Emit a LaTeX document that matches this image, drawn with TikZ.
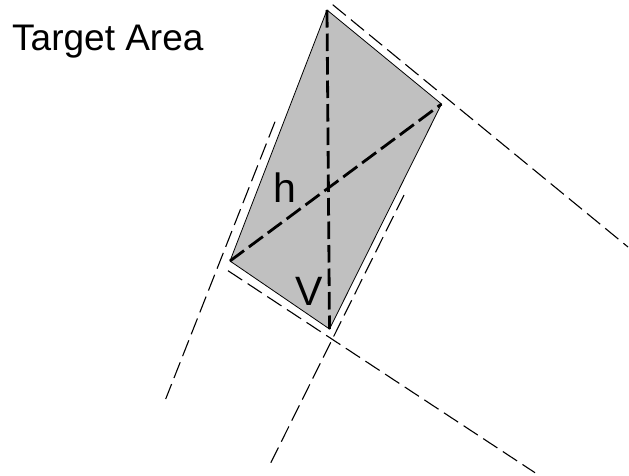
\documentclass[tikz,border=0pt]{standalone}
\usepackage{fontspec}
\setmainfont{Liberation Sans}
\begin{document}
\begin{tikzpicture}[x=1pt,y=-1pt,
  outline/.style={draw=black,line width=0.8pt,fill=areagray},
  guide/.style={draw=black,line width=1.1pt,dash pattern=on 17pt off 6.5pt},
  diag/.style={draw=black,line width=2.8pt,dash pattern=on 17.5pt off 6pt},
  lbl/.style={inner sep=0pt,anchor=base west}]
\definecolor{areagray}{RGB}{192,192,192}
\useasboundingbox (0,0) rectangle (629,475);
% vertices
\coordinate (T) at (327,10);
\coordinate (R) at (441.5,104);
\coordinate (B) at (329.5,329);
\coordinate (L) at (230,261);
% guide line ends
\coordinate (g1a) at (332.7,4.7);
\coordinate (g1b) at (628,247);
\coordinate (g2a) at (228,270.7);
\coordinate (g2b) at (535,472.7);
\coordinate (g3a) at (275,121.7);
\coordinate (g3b) at (165.7,399);
\coordinate (g4a) at (404,195);
\coordinate (g4b) at (270.7,463);
\path[outline] (T) -- (R) -- (B) -- (L) -- cycle;
\draw[diag] (T) -- (B);
\draw[diag] (L) -- (R);
\draw[guide] (g1a) -- (g1b);
\draw[guide] (g2a) -- (g2b);
\draw[guide] (g3a) -- (g3b);
\draw[guide] (g4a) -- (g4b);
\node[lbl,font=\fontsize{37}{42}\selectfont] (title) at (12,50) {Target Area};
\node[lbl,font=\fontsize{41}{46}\selectfont] (h) at (273,202) {h};
\node[lbl,font=\fontsize{41}{46}\selectfont] (v) at (295,305.5) {V};
\end{tikzpicture}
\end{document}
